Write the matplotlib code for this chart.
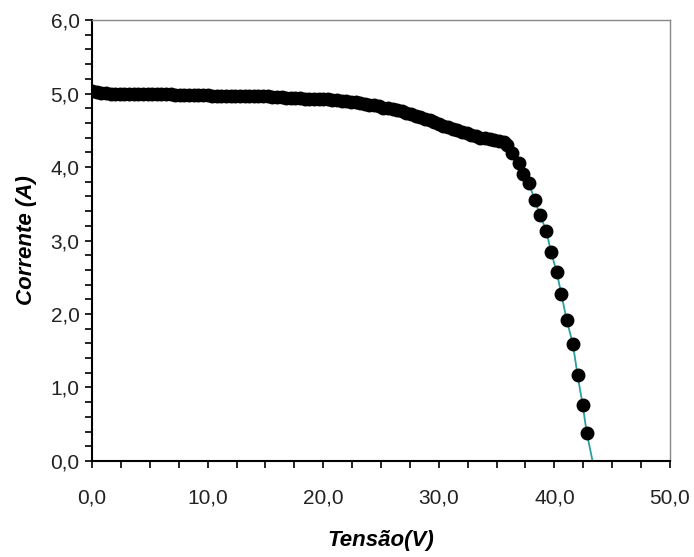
import matplotlib
matplotlib.use("Agg")
import matplotlib.pyplot as plt
from matplotlib.ticker import MultipleLocator, FuncFormatter

# Dense part of the I-V curve (Tensão V, Corrente A)
v_dense = [0.0, 0.4, 0.8, 1.2, 1.6, 2.0, 2.4, 2.8, 3.2, 3.6, 4.0, 4.4, 4.8, 5.2, 5.6,
           6.0, 6.4, 6.8, 7.2, 7.6, 8.0, 8.4, 8.8, 9.2, 9.6, 10.0, 10.4, 10.8, 11.2,
           11.6, 12.0, 12.4, 12.8, 13.2, 13.6, 14.0, 14.4, 14.8, 15.2, 15.6, 16.0,
           16.4, 16.8, 17.2, 17.6, 18.0, 18.4, 18.8, 19.2, 19.6, 20.0, 20.4, 20.8,
           21.2, 21.6, 22.0, 22.4, 22.8, 23.2, 23.6, 24.0, 24.4, 24.8, 25.2, 25.6,
           26.0, 26.4, 26.8, 27.2, 27.6, 28.0, 28.4, 28.8, 29.2, 29.6, 30.0, 30.4,
           30.8, 31.2, 31.6, 32.0, 32.4, 32.8, 33.2, 33.6, 34.0, 34.4, 34.8, 35.2,
           35.6, 35.9]
i_dense = [5.03, 5.02, 5.01, 5.01, 5.00, 5.00, 5.00, 4.99, 4.99, 4.99, 4.99, 4.99, 4.99,
           4.99, 4.99, 4.99, 4.99, 4.99, 4.98, 4.98, 4.98, 4.98, 4.98, 4.98, 4.98, 4.98,
           4.97, 4.97, 4.97, 4.97, 4.97, 4.97, 4.96, 4.96, 4.96, 4.96, 4.96, 4.96, 4.96,
           4.95, 4.95, 4.95, 4.94, 4.94, 4.94, 4.94, 4.93, 4.93, 4.93, 4.92, 4.92, 4.92,
           4.91, 4.91, 4.90, 4.90, 4.89, 4.88, 4.87, 4.86, 4.85, 4.84, 4.83, 4.81, 4.80,
           4.79, 4.77, 4.76, 4.74, 4.72, 4.70, 4.68, 4.66, 4.64, 4.61, 4.59, 4.56, 4.54,
           4.52, 4.50, 4.48, 4.46, 4.44, 4.42, 4.40, 4.39, 4.38, 4.37, 4.36, 4.34, 4.30]

# Steep part (sparser measurements)
v_steep = [36.3, 36.9, 37.3, 37.8, 38.3, 38.75, 39.3, 39.7, 40.2, 40.6, 41.06, 41.6,
           42.0, 42.45, 42.8]
i_steep = [4.19, 4.06, 3.91, 3.78, 3.55, 3.35, 3.13, 2.85, 2.57, 2.27, 1.92, 1.59,
           1.17, 0.76, 0.38]

# Fitted line in steep region (teal)
v_fit = [35.9, 36.3, 36.9, 37.3, 37.8, 38.3, 38.75, 39.3, 39.7, 40.2, 40.6, 41.06,
         41.6, 42.0, 42.45, 42.8, 43.3]
i_fit = [4.30, 4.19, 4.06, 3.91, 3.78, 3.55, 3.35, 3.13, 2.85, 2.57, 2.27, 1.92,
         1.59, 1.17, 0.76, 0.38, 0.0]

xticks = [0, 10, 20, 30, 40, 50]
yticks = [0, 1, 2, 3, 4, 5, 6]

narrow = ['Liberation Sans Narrow', 'Liberation Sans', 'DejaVu Sans']

fig = plt.figure(figsize=(6.94, 5.57), dpi=100)
ax = fig.add_axes([0.1326, 0.1724, 0.8328, 0.7916])

ax.plot(v_fit, i_fit, color='#2a9fa0', lw=1.3, zorder=2)
ax.plot(v_dense, i_dense, 'o', color='black', ms=9, zorder=3)
ax.plot(v_steep, i_steep, 'o', color='black', ms=9, zorder=3)

ax.set_xlim(0, 50)
ax.set_ylim(0, 6)
ax.set_xticks(xticks)
ax.set_yticks(yticks)
ax.xaxis.set_minor_locator(MultipleLocator(2.5))
ax.yaxis.set_minor_locator(MultipleLocator(0.2))
fmt = FuncFormatter(lambda v, p: f"{v:.1f}".replace('.', ','))
ax.xaxis.set_major_formatter(fmt)
ax.yaxis.set_major_formatter(fmt)

ax.tick_params(which='both', direction='out', length=5, width=1.2, color='black')
ax.tick_params(axis='x', which='major', pad=15)
ax.tick_params(axis='y', which='major', pad=4)
for lab in ax.get_xticklabels() + ax.get_yticklabels():
    lab.set_family(narrow)
    lab.set_fontsize(15)
    lab.set_color('#222222')

for s in ['left', 'bottom']:
    ax.spines[s].set_linewidth(1.5)
    ax.spines[s].set_color('black')
for s in ['top', 'right']:
    ax.spines[s].set_linewidth(1.0)
    ax.spines[s].set_color('#888888')

ax.set_xlabel('Tensão(V)', family=narrow, fontsize=16, fontweight='bold',
              fontstyle='italic', labelpad=16)
ax.set_ylabel('Corrente (A)', family=narrow, fontsize=16, fontweight='bold',
              fontstyle='italic', labelpad=10)

fig.savefig('out.png', dpi=100)
